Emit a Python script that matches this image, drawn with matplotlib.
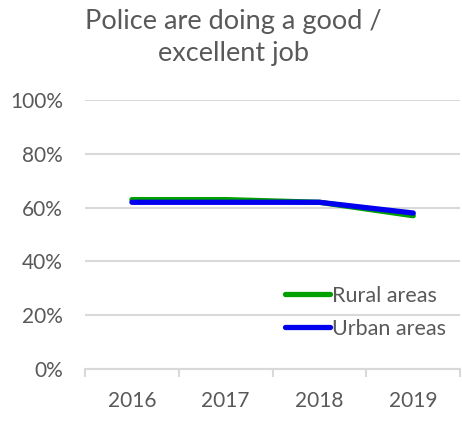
import matplotlib.pyplot as plt
from matplotlib.ticker import PercentFormatter

years = ["2016", "2017", "2018", "2019"]
rural = [63, 63, 62, 57]
urban = [62, 62, 62, 58]

grey_txt = "#595959"
grid_col = "#d9d9d9"

plt.rcParams['font.family'] = ['Lato', 'DejaVu Sans']

fig = plt.figure(figsize=(4.62, 4.28), dpi=100)
ax = fig.add_axes([0.184, 0.138, 0.812, 0.628])

x = range(len(years))
ax.plot(x, [v / 100 for v in rural], color="#00A000", lw=3.8, label="Rural areas",
        solid_capstyle="round")
ax.plot(x, [v / 100 for v in urban], color="#0000EE", lw=3.8, label="Urban areas",
        solid_capstyle="round")

ax.set_xlim(-0.5, 3.5)
ax.set_ylim(0, 1)
ax.set_yticks([0, 0.2, 0.4, 0.6, 0.8, 1.0])
ax.yaxis.set_major_formatter(PercentFormatter(1.0, decimals=0))
ax.set_xticks(list(x))
ax.set_xticklabels(years)
ax.set_xticks([-0.5, 0.5, 1.5, 2.5, 3.5], minor=True)

ax.grid(axis="y", color=grid_col, lw=1.5)
ax.set_axisbelow(True)
for s in ["left", "right", "top"]:
    ax.spines[s].set_visible(False)
ax.spines["bottom"].set_color(grid_col)
ax.spines["bottom"].set_linewidth(1.5)

ax.tick_params(axis="y", length=0, pad=16, labelsize=15, labelcolor=grey_txt)
ax.tick_params(axis="x", which="major", length=0, pad=16, labelsize=15, labelcolor=grey_txt)
ax.tick_params(axis="x", which="minor", length=6, width=1.5, color=grid_col)

ax.legend(loc="lower right", bbox_to_anchor=(1.015, 0.04), frameon=False, fontsize=15.5,
          handlelength=2.1, handletextpad=0.1, labelspacing=0.6, labelcolor=grey_txt)

fig.text(0.505, 0.978, "Police are doing a good /\nexcellent job", ha="center", va="top",
         fontsize=19.5, color=grey_txt, linespacing=1.32)

fig.savefig("out.png", dpi=100)
